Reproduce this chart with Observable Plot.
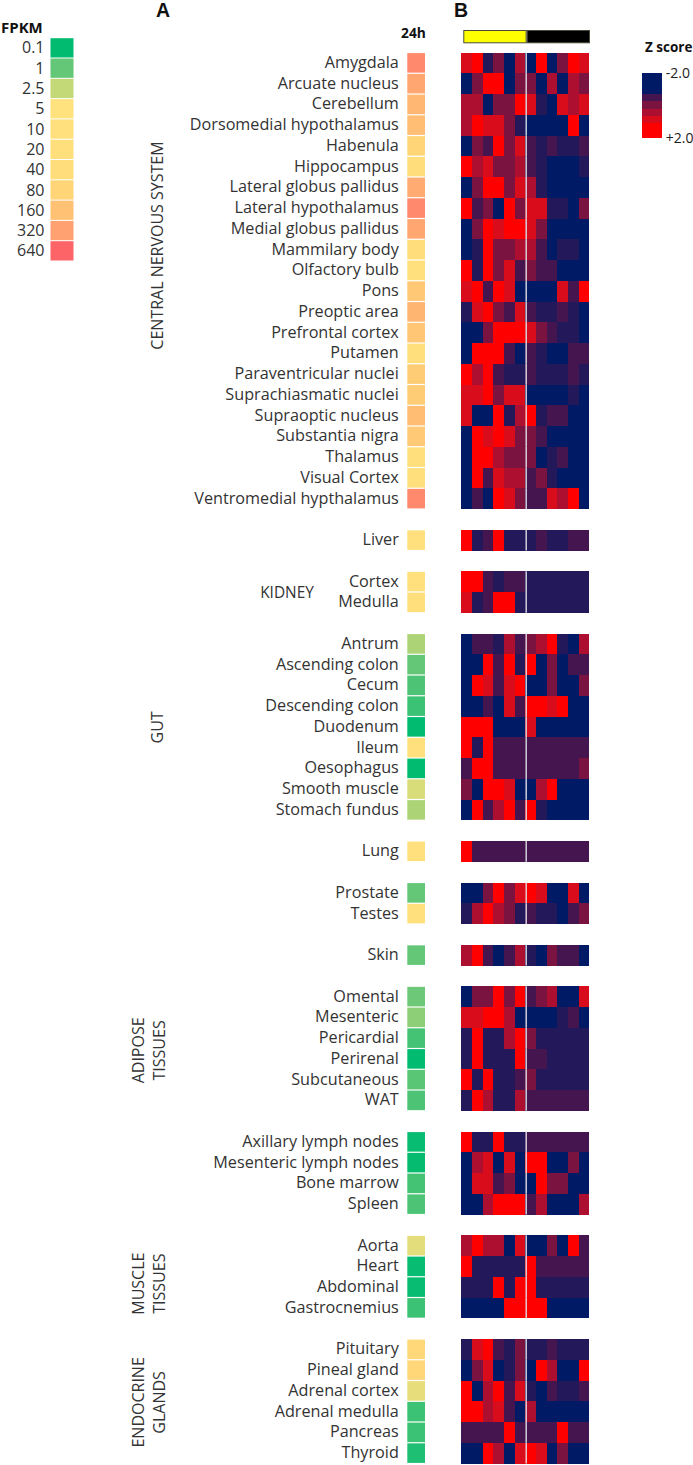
<!DOCTYPE html>
<html>
<head>
<meta charset="utf-8">
<script src="https://cdn.jsdelivr.net/npm/d3@7"></script>
<script src="https://cdn.jsdelivr.net/npm/@observablehq/plot@0.6"></script>
<style>
  html, body { margin: 0; padding: 0; background: #fff; overflow: hidden; }
  #page { position: relative; width: 693px; height: 1465px; font-family: "Open Sans", sans-serif; color: #222; overflow: hidden; }
  #page svg { position: absolute; left: 0; top: 0; max-width: none; }
  .t { position: absolute; font-weight: 700; white-space: nowrap; color: #111; line-height: 1; }
  .p { font-family: "Liberation Sans", sans-serif; font-size: 19.5px; top: 1px; }
</style>
</head>
<body>
<div id="page">
  <div class="t" style="left:1px;top:20px;font-size:15px;">FPKM</div>
  <div class="t p" style="left:156px;">A</div>
  <div class="t p" style="left:454px;">B</div>
  <div class="t" style="left:401px;top:26px;font-size:13.8px;">24h</div>
  <div class="t" style="left:645px;top:41px;font-size:13.5px;">Z score</div>
</div>
<script>
// ---- FPKM colour key
const fpkmStops = [0.1, 1, 2.5, 5, 10, 20, 40, 80, 160, 320, 640];
const fpkmColors = ["#00bb70", "#63c777", "#c3d877", "#ffe27e", "#ffe07c", "#ffdf7c", "#ffdd7b", "#ffd578", "#ffc274", "#ffa170", "#fc6468"];

// ---- tissues
const cnsNames = ["Amygdala", "Arcuate nucleus", "Cerebellum", "Dorsomedial hypothalamus", "Habenula", "Hippocampus", "Lateral globus pallidus", "Lateral hypothalamus", "Medial globus pallidus", "Mammilary body", "Olfactory bulb", "Pons", "Preoptic area", "Prefrontal cortex", "Putamen", "Paraventricular nuclei", "Suprachiasmatic nuclei", "Supraoptic nucleus", "Substantia nigra", "Thalamus", "Visual Cortex", "Ventromedial hypthalamus"];
const liverNames = ["Liver"];
const kidneyNames = ["Cortex", "Medulla"];
const gutNames = ["Antrum", "Ascending colon", "Cecum", "Descending colon", "Duodenum", "Ileum", "Oesophagus", "Smooth muscle", "Stomach fundus"];
const lungNames = ["Lung"];
const reproNames = ["Prostate", "Testes"];
const skinNames = ["Skin"];
const adiposeNames = ["Omental", "Mesenteric", "Pericardial", "Perirenal", "Subcutaneous", "WAT"];
const lymphNames = ["Axillary lymph nodes", "Mesenteric lymph nodes", "Bone marrow", "Spleen"];
const muscleNames = ["Aorta", "Heart", "Abdominal", "Gastrocnemius"];
const endocrineNames = ["Pituitary", "Pineal gland", "Adrenal cortex", "Adrenal medulla", "Pancreas", "Thyroid"];

// ---- 24h FPKM of each tissue
const cnsFpkm = [420, 290, 200, 175, 80, 40, 260, 420, 290, 40, 10, 130, 210, 140, 20, 110, 110, 180, 125, 20, 15, 420];
const liverFpkm = [10];
const kidneyFpkm = [10, 20];
const gutFpkm = [2, 1, 0.6, 0.4, 0.1, 10, 0.1, 3.2, 2];
const lungFpkm = [10];
const reproFpkm = [1, 10];
const skinFpkm = [1];
const adiposeFpkm = [1.1, 1.5, 0.5, 0.1, 0.8, 0.6];
const lymphFpkm = [0.12, 0.11, 0.5, 0.6];
const muscleFpkm = [3.6, 0.12, 0.12, 0.4];
const endocrineFpkm = [60, 70, 3.8, 0.4, 0.4, 0.2];

// ---- Z score levels, one digit per time point (index into zLevels)
const zLevels = [-2, -1.3, -0.7, 0, 0.7, 1.3, 2];
const zColors = ["#001a66", "#23185a", "#45154f", "#7b1340", "#ac0f30", "#d90c1c", "#ff0000"];
const cnsHeat = ["561304060365", "036603304043", "440336510545", "465531000060", "032635212112", "645334210001", "036635410000", "623063551103", "036566530000", "016334420110", "616352322000", "562650000526", "156325211210", "003666532110", "066620210022", "646211211121", "556355000010", "500614612200", "065653320000", "066433301200", "062544231000", "020653225460"];
const liverHeat = ["612611121122"];
const kidneyHeat = ["662122111111", "512661111111"];
const gutHeat = ["022142346104", "006261603022", "065256003003", "002052665600", "666000500000", "616222222222", "266222222223", "306650046000", "062462610000"];
const lungHeat = ["622222222222"];
const reproHeat = ["003635650050", "146431211023"];
const skinHeat = ["462024103220"];
const adiposeHeat = ["033636234005", "556640000120", "161146311111", "161116221111", "616112311111", "164114222222"];
const lymphHeat = ["611611222222", "045050660030", "055230063300", "004666240004"];
const muscleHeat = ["464405003062", "611111622222", "111616611111", "000066660000"];
const endocrineHeat = ["156213112111", "035013064006", "604625102112", "664520400000", "222262222622", "006405650300"];

const columns = ["L1", "L2", "L3", "L4", "L5", "L6", "D1", "D2", "D3", "D4", "D5", "D6"];
const phases = ["Light", "Dark"];
const phaseColors = ["#ffff00", "#000000"];

// ---- vertical group captions
const groupLabels = ["CENTRAL NERVOUS SYSTEM", "GUT", "ADIPOSE\nTISSUES", "MUSCLE\nTISSUES", "ENDOCRINE\nGLANDS"];
const groupAnchors = ["Mammilary body", "Duodenum", "Perirenal", "Abdominal", "Adrenal cortex"];
const zKeyBounds = [-2, -0.69, -0.25, 0.23, 0.66, 1.1, 2];
const zKeyValues = [-2, -0.7, 0, 0.7, 1.3, 2];

// ---- tables built from the arrays above
const blocks = [
  [cnsNames, cnsFpkm, cnsHeat], [liverNames, liverFpkm, liverHeat], [kidneyNames, kidneyFpkm, kidneyHeat],
  [gutNames, gutFpkm, gutHeat], [lungNames, lungFpkm, lungHeat], [reproNames, reproFpkm, reproHeat],
  [skinNames, skinFpkm, skinHeat], [adiposeNames, adiposeFpkm, adiposeHeat], [lymphNames, lymphFpkm, lymphHeat],
  [muscleNames, muscleFpkm, muscleHeat], [endocrineNames, endocrineFpkm, endocrineHeat]
];
const rowDomain = [];
const tissues = [];
const cells = [];
blocks.forEach(([names, fpkm, heat], b) => {
  if (b) rowDomain.push("gap" + b);
  names.forEach((name, i) => {
    rowDomain.push(name);
    tissues.push({name, fpkm: fpkm[i]});
    columns.forEach((c, j) => cells.push({row: name, col: c, z: zLevels[+heat[i][j]]}));
  });
});

const H = 1465;
const rowsY = {type: "band", domain: rowDomain, padding: 0, round: false, axis: null};
const fpkmColor = {type: "log", domain: fpkmStops, range: fpkmColors};
const zColor = {type: "linear", domain: zLevels, range: zColors};
const font = {fontFamily: "'Open Sans', sans-serif", background: "transparent", overflow: "visible"};
const page = document.getElementById("page");

// FPKM key
page.append(Plot.plot({
  width: 75, height: 262, marginTop: 37.7, marginBottom: 1, marginLeft: 50, marginRight: 1,
  style: font, color: fpkmColor,
  x: {axis: null, type: "band", domain: ["k"], padding: 0, round: false},
  y: {type: "band", domain: fpkmStops, padding: 0, round: false, label: null},
  marks: [
    Plot.cell(fpkmStops, {x: () => "k", y: d => d, fill: d => d, inset: 0.5}),
    Plot.axisY({anchor: "left", tickSize: 0, tickPadding: 6, fontSize: 16, fill: "#333", label: null, tickFormat: d => String(d)})
  ]
}));

// tissue labels + 24h swatches
const plotTop = 52.5, plotBottom = 1.5;
const frameLeft = 407.3;
const captionX = l => (l.includes("\n") ? 147 : 156) - frameLeft;
const captionDy = [-4.6, 0, -9, -4, 11];
page.append(Plot.plot({
  width: 425, height: H, marginTop: plotTop, marginBottom: plotBottom, marginLeft: frameLeft, marginRight: 0,
  style: font, color: fpkmColor,
  x: {axis: null, type: "band", domain: ["24h"], padding: 0, round: false},
  y: rowsY,
  marks: [
    Plot.cell(tissues, {x: () => "24h", y: "name", fill: "fpkm", insetTop: 0.6, insetBottom: 0.6}),
    Plot.axisY(tissues.map(d => d.name), {anchor: "left", tickSize: 0, tickPadding: 9, fontSize: 16.2, fill: "#333", label: null, tickFormat: d => d, dy: -0.8}),
    ...groupLabels.map((label, i) => Plot.text([label], {
      y: () => groupAnchors[i], text: d => d, frameAnchor: "left", textAnchor: "middle", rotate: -90,
      dx: captionX(label), dy: captionDy[i], lineHeight: 1.3, fontSize: 16, fill: "#333"
    })),
    Plot.text(["KIDNEY"], {
      y: () => "Medulla", text: d => d, frameAnchor: "left", textAnchor: "middle",
      dx: 286.5 - frameLeft, dy: -9.5, fontSize: 15.4, fill: "#333"
    })
  ]
}));

// light/dark phase bar
page.append(Plot.plot({
  width: 590, height: 44, marginTop: 30, marginBottom: 0.7, marginLeft: 463.3, marginRight: 0,
  style: font,
  x: {axis: null, type: "band", domain: phases, padding: 0, round: false},
  y: {axis: null, type: "band", domain: ["p"], padding: 0, round: false},
  marks: [
    Plot.cell(phases, {x: d => d, y: () => "p", fill: (d, i) => phaseColors[i], stroke: "#4a4a3a", strokeWidth: 1, inset: 0.5})
  ]
}));

// heat map
page.append(Plot.plot({
  width: 693, height: H, marginTop: plotTop, marginBottom: plotBottom, marginLeft: 461.3, marginRight: 103.7,
  style: font, color: zColor,
  x: {axis: null, type: "band", domain: columns, padding: 0, round: false},
  y: rowsY,
  marks: [
    Plot.cell(cells, {x: "col", y: "row", fill: "z", inset: 0, shapeRendering: "crispEdges"}),
    Plot.tickX(tissues, {x: () => "D1", y: "name", dx: -10.67 / 2 + 0.4, stroke: "#dcdce4", strokeWidth: 1.4})
  ]
}));

// Z score key
const zKey = zKeyValues.map((z, i) => ({z, y1: zKeyBounds[i], y2: zKeyBounds[i + 1]}));
page.append(Plot.plot({
  width: 693, height: 150, marginTop: 72.7, marginBottom: 12.3, marginLeft: 642.3, marginRight: 30.7,
  style: font, color: zColor,
  x: {axis: null, domain: [0, 1]},
  y: {domain: [-2, 2], reverse: true, label: null},
  marks: [
    Plot.rect(zKey, {x1: () => 0, x2: () => 1, y1: "y1", y2: "y2", fill: "z", shapeRendering: "crispEdges"}),
    Plot.axisY([-2, 2], {anchor: "right", tickSize: 0, tickPadding: 3, fontSize: 14, fill: "#222", label: null, tickFormat: d => (d < 0 ? "-" : "+") + Math.abs(d).toFixed(1)})
  ]
}));
</script>
</body>
</html>
